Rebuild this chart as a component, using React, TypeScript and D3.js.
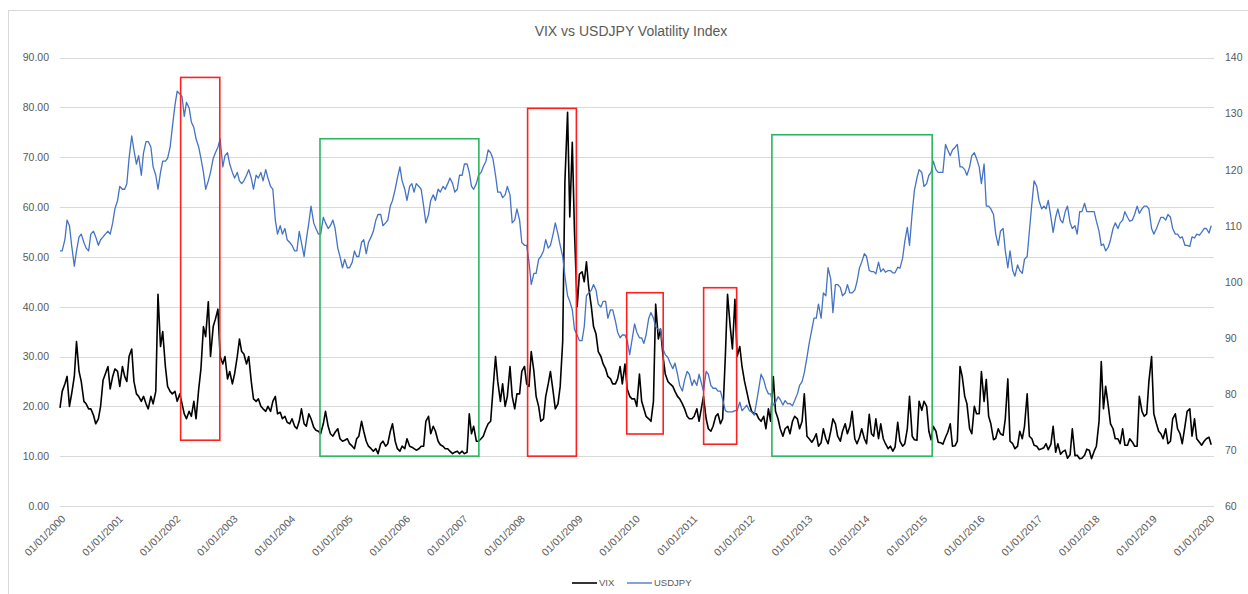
import React, { useRef, useEffect } from "react";
import * as d3 from "d3";

// semi-monthly closes (1st and 15th of each month), Jan 2000 - Jan 2020
const vix: number[] = [
  // 2000
  19.7, 23, 24.5, 26, 20, 22.5, 26, 33, 27, 25, 21, 20.5, 19.5, 19.5, 18.2, 16.5, 17.5, 20, 25.3, 26.5, 28, 23.5, 26, 27.5,
  // 2001
  27, 24, 28, 26, 25, 30, 31.5, 25, 22.5, 22, 21, 22, 20.5, 19.5, 22, 20.5, 23, 42.5, 32, 35, 28, 24, 23, 22.5,
  // 2002
  23, 21, 22.5, 20.5, 18.5, 17.5, 19, 18, 21, 17.5, 23.5, 27.5, 36, 34, 41, 30, 36, 37.5, 39.5, 30, 28.5, 30, 25.5, 27,
  // 2003
  24.5, 26.5, 30, 33.5, 31, 30.5, 28.5, 30, 25, 21.5, 21, 21.5, 20, 19.5, 19, 20, 19, 21, 22, 18.5, 18.8, 17.5, 18, 16.8,
  // 2004
  16.5, 17.5, 16, 15.5, 17, 19.5, 16.5, 16, 18.5, 17.5, 15.8, 15.2, 15, 14.5, 16.5, 19, 16, 14.5, 14, 14.8, 15.5, 13.5, 13, 13.2,
  // 2005
  13.5, 12.5, 12, 11.5, 13.5, 14, 17, 15, 13, 12, 11.5, 11, 11.5, 10.5, 12.5, 13, 12, 12.5, 15, 16.5, 13, 11.5, 11, 12,
  // 2006
  11.5, 13.5, 12, 11.8, 11.5, 11.2, 11.5, 12, 12, 17, 18, 14.5, 16, 15, 13, 12.3, 12, 11.5, 11.5, 11, 10.5, 10.8, 11, 10.5,
  // 2007
  11, 10.5, 10.8, 18.5, 14.5, 16, 13, 13, 13.5, 14, 15.5, 16.5, 17, 23, 30, 25, 21, 24.5, 20, 22, 28, 22, 19.5, 22.5,
  // 2008
  22.5, 27, 28, 24.5, 24, 31, 27, 22, 20, 17, 17.5, 22, 24.5, 27, 23, 19.5, 20.5, 24, 33, 65, 79, 58, 73, 55,
  // 2009
  40, 46.5, 47, 45, 49, 44, 40, 36, 34.5, 31, 30, 28.5, 27.5, 26, 25.5, 24.5, 24.5, 25.5, 28, 24.5, 28.5, 23.5, 22, 21.5,
  // 2010
  21.5, 20, 26.5, 21, 19.5, 18, 17.5, 17, 21, 40.5, 33.5, 35.5, 30, 26.5, 25, 24.5, 24, 23, 22, 21.5, 20.5, 19.5, 18, 17.5,
  // 2011
  17.5, 18, 19.5, 17, 19.5, 22, 17.5, 15.5, 15, 16, 18, 18.5, 16.5, 17.5, 30, 42.5, 36, 31.5, 41.5, 30, 32, 28, 25, 23,
  // 2012
  20.5, 19, 18.5, 18.5, 17.5, 17, 18, 15.5, 19.5, 17, 26, 19, 17.5, 15.5, 14, 15.5, 16, 14.5, 17, 18, 17.5, 15.5, 17, 22.5,
  // 2013
  14, 13.5, 12.8, 13.5, 14.5, 12, 12.7, 15.5, 13.5, 12.5, 15, 17.5, 16.5, 14, 13, 15, 16.5, 14.5, 16, 19, 13.5, 12.5, 13.8, 15.5,
  // 2014
  13.5, 12.5, 18.4, 14.5, 14, 17.5, 13.5, 16.5, 13.5, 12.5, 11.5, 12, 11, 11.8, 16.8, 13, 12, 12.5, 15.5, 22, 14, 13.3, 13.2, 21,
  // 2015
  19.2, 21, 20, 15, 13.3, 16, 15, 12.8, 12.7, 12.4, 13.8, 14.8, 16.5, 12, 12.1, 13, 28, 26, 22, 20.5, 15.5, 14.5, 20, 18.5,
  // 2016
  18.5, 27, 21, 25.4, 18, 16.5, 13.3, 13.6, 15.5, 14.5, 14.2, 17.5, 25.5, 13, 12.5, 11.5, 12, 15, 13.5, 16, 22.5, 14, 13.5, 12.2,
  // 2017
  12, 11.3, 11.5, 11.7, 12.5, 11.3, 12.4, 16, 10.8, 12.5, 10.4, 10.9, 11.2, 9.6, 10.3, 15.5, 10.1, 10.2, 9.5, 9.6, 10.2, 11.4, 11.2, 9.5,
  // 2018
  11, 12, 17, 29, 19.5, 24, 20, 16.5, 15.5, 13.5, 13.5, 12.5, 15.5, 12.2, 12.2, 13.5, 12.8, 12, 12, 22, 19, 18, 18.5, 25,
  // 2019
  30, 18.5, 16.5, 15, 14.5, 13.5, 15.5, 12.5, 13, 17.5, 18.5, 15.5, 14.5, 12.5, 16, 19, 19.5, 14, 17.5, 13.5, 12.8, 12.2, 13, 13.5,
  // 2020
  13.8, 12.3,
];

const usdjpy: number[] = [
  // 2000
  105.5, 105.5, 107.5, 111, 110, 106.5, 102.8, 105.5, 108, 108.5, 107, 106, 105.5, 108.5, 109, 108, 106.5, 107.5, 108, 108.5, 109, 108.5, 110.5, 113,
  // 2001
  114.5, 117, 116.5, 116.5, 117.5, 122, 126, 123.5, 121, 122.5, 119, 123, 125, 125, 124, 120.5, 119, 116.5, 119.5, 121.5, 121.5, 122, 124, 127.5,
  // 2002
  131.5, 134, 133.5, 133, 129.5, 132, 131, 128.5, 127.5, 125.5, 124, 122, 119.5, 116.5, 118, 119.5, 122, 123, 124, 125.5, 120.5, 122.5, 123, 121,
  // 2003
  119.5, 118.5, 119.5, 118, 117.5, 118, 119, 120, 118.5, 116.5, 119, 118.5, 119.5, 118, 120, 118.5, 117, 116.5, 111, 108.5, 110, 108.5, 109.5, 107.5,
  // 2004
  107, 106.5, 105.5, 105.5, 109, 107, 104.5, 107.5, 110.5, 113.5, 110.5, 109.5, 108.5, 108.5, 111.5, 110.5, 109.5, 110, 111, 109.5, 106, 104.5, 102.5, 104,
  // 2005
  102.5, 102.5, 103.5, 105.5, 104.5, 104.5, 107, 107.5, 105, 107, 108, 109, 111, 112, 112, 110, 110.5, 111, 113.5, 114.5, 116.5, 118.5, 120.5, 118,
  // 2006
  116.5, 114.5, 117, 117.5, 116, 117.5, 117, 116.5, 113.5, 110.5, 112, 114.5, 115.5, 114.5, 116.5, 116, 117, 116.5, 117.5, 118.5, 117.5, 116, 116.5, 119,
  // 2007
  119, 121, 121, 119.5, 117, 116.5, 117.5, 119, 119.5, 120.5, 121.5, 123.5, 123, 122, 119, 116, 116, 115, 115.5, 117, 115.5, 110.5, 111, 113,
  // 2008
  111, 107, 106.5, 106.5, 103.5, 99.5, 101.5, 101.5, 104, 104.5, 105.5, 107.5, 106, 106.5, 108.5, 110.5, 108.5, 106.5, 104.5, 101, 97.5, 96.5, 95, 91.5,
  // 2009
  90.5, 89.5, 89.5, 92, 97.5, 98, 98.5, 99.5, 98.5, 96, 95.5, 96.5, 96.5, 93.5, 95, 95, 93, 91, 90, 90.5, 90.5, 89.5, 87, 89.5,
  // 2010
  92.5, 91, 90, 90, 89, 90.5, 93.5, 94.5, 93.5, 92, 91.5, 91.5, 88, 87, 86.5, 85.5, 84.5, 85.5, 83.5, 81.5, 80.5, 82.5, 84, 83.5,
  // 2011
  81.5, 82.5, 81.5, 83.5, 82, 80.5, 84, 83.5, 81.5, 81, 81, 80.5, 80.5, 79, 77, 76.8, 76.8, 76.8, 77, 77, 78.5, 77, 77.5, 78,
  // 2012
  77, 76.8, 76.2, 78.5, 81, 83.5, 82.5, 81, 80, 80, 78, 78.5, 79.5, 79, 78, 78.8, 78.2, 78.3, 77.9, 78.8, 80, 81.5, 82.2, 83.8,
  // 2013
  86.5, 89, 91.5, 93.5, 93.5, 96, 93.5, 98, 97.5, 102.5, 100.5, 94.5, 99.5, 99.5, 99, 97.5, 98, 99.5, 98, 98, 98.5, 100, 102.5, 103.5,
  // 2014
  105, 104.5, 102, 101.8, 101.8, 101.4, 103.5, 101.8, 102.3, 101.7, 102, 102, 101.6, 101.6, 102.6, 102.4, 104.2, 107.2, 109.7, 106.5, 112.3, 116.3, 118.5, 120,
  // 2015
  119.5, 117, 117.5, 119, 119.5, 121.5, 120, 119.5, 119.5, 119.5, 124.5, 123.5, 122.5, 123.5, 124, 124.5, 120.5, 120.5, 120, 119, 120.5, 122.5, 123, 122,
  // 2016
  120.5, 117.5, 121, 113.5, 113.5, 113, 112, 108.5, 106.5, 109, 109.5, 105.5, 102.5, 105.5, 102, 101, 103, 102, 101.5, 104, 104.5, 109, 114, 118,
  // 2017
  117, 114.5, 113, 113.5, 113, 114.5, 111.5, 108.8, 111.5, 113, 111, 110.5, 112.5, 113.5, 110.5, 109.5, 110, 108.5, 112.5, 112.5, 114, 112.5, 112.5, 112.5,
  // 2018
  112.5, 110.8, 109, 106.5, 106.7, 105.5, 106.2, 107.5, 109.5, 110.5, 109.5, 110.5, 111, 112.5, 111.5, 110.8, 111, 112, 113.5, 112.2, 113, 113.5, 113.5, 113,
  // 2019
  109.5, 108.5, 109.5, 110.5, 111.5, 111.5, 111, 112, 111.5, 109.5, 108.5, 108.5, 107.8, 108, 106.5, 106.5, 106.3, 108, 107.8, 108.5, 108.3, 108.8, 109.5, 109.5,
  // 2020
  108.7, 110,
];

const leftTicks = [0, 10, 20, 30, 40, 50, 60, 70, 80, 90];
const rightTicks = [60, 70, 80, 90, 100, 110, 120, 130, 140];
const yearTicks = d3.range(2000, 2021);

// highlight boxes drawn over the chart (dates on x, VIX units on y)
const boxStart = ["2002-02-06", "2004-07-11", "2008-02-21", "2009-11-12", "2011-03-16", "2012-05-23"];
const boxEnd = ["2002-10-13", "2007-04-17", "2008-12-27", "2010-07-02", "2011-10-12", "2015-03-08"];
const boxTop = [86, 73.7, 79.8, 42.8, 43.8, 74.5];
const boxBottom = [13.2, 10, 10, 14.45, 12.4, 10];
const boxColor = ["#ff2020", "#2cb561", "#ff2020", "#ff2020", "#ff2020", "#2cb561"];

const W = 1248;
const H = 594;
const FONT = "'Liberation Sans', Arial, sans-serif";
const GREY = "#595959";

const dateAt = (i: number) => new Date(2000 + Math.floor(i / 24), Math.floor((i % 24) / 2), i % 2 === 0 ? 1 : 15);

const Chart = () => {
  const svgRef = useRef<SVGSVGElement>(null);

  useEffect(() => {
    const svg = d3.select(svgRef.current);
    svg.selectAll("*").remove();

    const left = 60;
    const right = 1214;
    const top = 57.5;
    const bottom = 506;

    const x = d3.scaleTime()
      .domain([new Date(2000, 0, 1), new Date(2020, 0, 1)])
      .range([left, 1209]);
    const yL = d3.scaleLinear().domain([0, 90]).range([bottom, top]);
    const yR = d3.scaleLinear().domain([60, 140]).range([bottom, top]);

    svg.append("rect").attr("width", W).attr("height", H).attr("fill", "#fff");
    // chart area border
    svg.append("rect")
      .attr("x", 8.5).attr("y", 10.5)
      .attr("width", W + 10).attr("height", H + 10)
      .attr("fill", "none").attr("stroke", "#d9d9d9");

    // title
    svg.append("text")
      .attr("x", 631).attr("y", 36)
      .attr("text-anchor", "middle")
      .attr("font-family", FONT).attr("font-size", 14)
      .attr("fill", GREY)
      .text("VIX vs USDJPY Volatility Index");

    // gridlines
    svg.append("g")
      .selectAll("line")
      .data(leftTicks)
      .enter()
      .append("line")
      .attr("x1", left).attr("x2", right)
      .attr("y1", (d) => Math.round(yL(d)) + 0.5)
      .attr("y2", (d) => Math.round(yL(d)) + 0.5)
      .attr("stroke", "#d9d9d9").attr("stroke-width", 1);

    const styleAxis = (g: any) => {
      g.select(".domain").remove();
      g.selectAll("text").attr("fill", GREY).attr("font-family", FONT).attr("font-size", 10.5);
    };

    svg.append("g")
      .attr("transform", `translate(${left},0)`)
      .call(d3.axisLeft(yL).tickValues(leftTicks).tickFormat(d3.format(".2f")).tickSize(0).tickPadding(11))
      .call(styleAxis);

    svg.append("g")
      .attr("transform", `translate(${right},0)`)
      .call(d3.axisRight(yR).tickValues(rightTicks).tickFormat(d3.format("d")).tickSize(0).tickPadding(11))
      .call(styleAxis);

    const xAxis = svg.append("g")
      .attr("transform", `translate(0,${bottom})`)
      .call(
        d3.axisBottom(x)
          .tickValues(yearTicks.map((yr) => new Date(yr, 0, 1)))
          .tickFormat(d3.timeFormat("%d/%m/%Y") as any)
          .tickSize(0)
      )
      .call(styleAxis);
    xAxis.selectAll("text")
      .attr("y", 0).attr("x", 0).attr("dy", "0.35em")
      .attr("text-anchor", "end")
      .attr("transform", "translate(3,11) rotate(-45)");

    // series
    const vixLine = d3.line<number>()
      .x((_, i) => x(dateAt(i)))
      .y((d) => yL(d));
    const jpyLine = d3.line<number>()
      .x((_, i) => x(dateAt(i)))
      .y((d) => yR(d));

    svg.append("path")
      .datum(vix)
      .attr("d", vixLine)
      .attr("fill", "none")
      .attr("stroke", "#000")
      .attr("stroke-width", 1.6)
      .attr("stroke-linejoin", "round");

    svg.append("path")
      .datum(usdjpy)
      .attr("d", jpyLine)
      .attr("fill", "none")
      .attr("stroke", "#4472c4")
      .attr("stroke-width", 1.3)
      .attr("stroke-linejoin", "round");

    // highlight boxes
    const parse = d3.timeParse("%Y-%m-%d");
    svg.append("g")
      .selectAll("rect")
      .data(boxStart.map((s, i) => i))
      .enter()
      .append("rect")
      .attr("x", (i) => x(parse(boxStart[i]) as Date))
      .attr("y", (i) => yL(boxTop[i]))
      .attr("width", (i) => x(parse(boxEnd[i]) as Date) - x(parse(boxStart[i]) as Date))
      .attr("height", (i) => yL(boxBottom[i]) - yL(boxTop[i]))
      .attr("fill", "none")
      .attr("stroke", (i) => boxColor[i])
      .attr("stroke-width", 1.6);

    // legend
    const legend = svg.append("g").attr("transform", "translate(572,583)");
    const items = [
      { name: "VIX", color: "#000", w: 1.6, dx: 0 },
      { name: "USDJPY", color: "#4472c4", w: 1.3, dx: 55 },
    ];
    items.forEach((it) => {
      legend.append("line")
        .attr("x1", it.dx).attr("x2", it.dx + 25)
        .attr("y1", 0).attr("y2", 0)
        .attr("stroke", it.color).attr("stroke-width", it.w);
      legend.append("text")
        .attr("x", it.dx + 27).attr("y", 0).attr("dy", "0.35em")
        .attr("font-family", FONT).attr("font-size", 9.5)
        .attr("fill", GREY)
        .text(it.name);
    });
  }, []);

  return <svg ref={svgRef} width={W} height={H} style={{ position: "absolute", left: 0, top: 0, display: "block" }}></svg>;
};

export default function App() {
  return <Chart />;
}
